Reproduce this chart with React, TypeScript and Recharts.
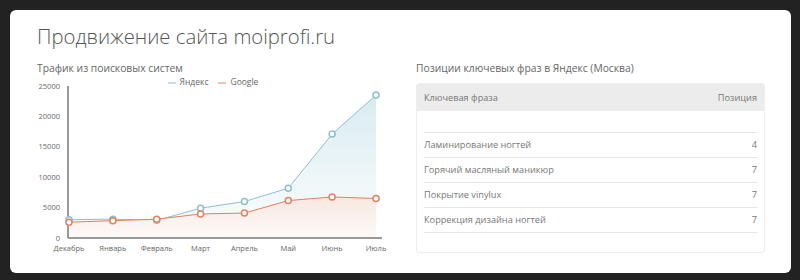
import { ComposedChart, Area, XAxis, YAxis, Legend } from 'recharts';

const months = ['Декабрь', 'Январь', 'Февраль', 'Март', 'Апрель', 'Май', 'Июнь', 'Июль'];
const yandex = [3000, 3100, 2900, 4900, 6000, 8200, 17100, 23500];
const google = [2600, 2850, 3100, 3950, 4100, 6150, 6750, 6500];
const yTicks = [0, 5000, 10000, 15000, 20000, 25000];

const phrases = ['Ламинирование ногтей', 'Горячий масляный маникюр', 'Покрытие vinylux', 'Коррекция дизайна ногтей'];
const positions = [4, 7, 7, 7];

const data = months.map((m, i) => ({ month: m, yandex: yandex[i], google: google[i] }));

const FONT = '"Open Sans", sans-serif';
const BLUE = '#8fbfcf';
const ORANGE = '#e3805f';

export default function App() {
  return (
    <div style={{ position: 'absolute', left: 0, top: 0, width: 800, height: 280, background: '#222', fontFamily: FONT }}>
      <div style={{ position: 'absolute', left: 10, top: 10, width: 781, height: 263, background: '#fff', borderRadius: 6 }} />

      <div style={{ position: 'absolute', left: 37, top: 22, fontSize: 20.3, fontWeight: 300, color: '#555', whiteSpace: 'nowrap' }}>
        Продвижение сайта moiprofi.ru
      </div>
      <div style={{ position: 'absolute', left: 37, top: 61, fontSize: 10.3, color: '#666', whiteSpace: 'nowrap' }}>
        Трафик из поисковых систем
      </div>
      <div style={{ position: 'absolute', left: 416, top: 61, fontSize: 10.3, color: '#666', whiteSpace: 'nowrap' }}>
        Позиции ключевых фраз в Яндекс (Москва)
      </div>

      <div style={{ position: 'absolute', left: 30, top: 74 }}>
        <ComposedChart width={360} height={186} data={data} margin={{ top: 0, right: 8, bottom: 6, left: 0 }}>
          <defs>
            <linearGradient id="gY" x1="0" y1="0" x2="0" y2="1">
              <stop offset="0%" stopColor="#d3e8ee" stopOpacity={0.9} />
              <stop offset="100%" stopColor="#f6fbfc" stopOpacity={0.6} />
            </linearGradient>
            <linearGradient id="gG" x1="0" y1="0" x2="0" y2="1">
              <stop offset="0%" stopColor="#fae5dc" stopOpacity={0.9} />
              <stop offset="100%" stopColor="#fdf7f4" stopOpacity={0.6} />
            </linearGradient>
          </defs>
          <Legend
            verticalAlign="top"
            align="center"
            iconType="plainline"
            iconSize={8}
            height={12}
            itemSorter={(item: any) => (item.dataKey === 'yandex' ? 0 : 1)}
            wrapperStyle={{ fontSize: 8.5, color: '#666', lineHeight: '10px', top: 3, left: 12 }}
            formatter={(v) => <span style={{ color: '#666' }}>{v}</span>}
          />
          <XAxis
            dataKey="month"
            tick={{ fontSize: 7.5, fill: '#666' }}
            tickLine={false}
            axisLine={{ stroke: '#777', strokeWidth: 1.5 }}
            padding={{ left: 1, right: 6 }}
            height={16}
            interval={0}
          />
          <YAxis
            width={38}
            domain={[0, 25000]}
            ticks={yTicks}
            tick={{ fontSize: 7.5, fill: '#666' }}
            tickLine={false}
            axisLine={{ stroke: '#777', strokeWidth: 1.5 }}
          />
          <Area
            type="linear"
            dataKey="yandex"
            name="Яндекс"
            stroke={BLUE}
            strokeWidth={1}
            fill="url(#gY)"
            fillOpacity={1}
            dot={{ r: 3, stroke: BLUE, strokeWidth: 1.5, fill: '#fff' }}
            isAnimationActive={false}
          />
          <Area
            type="linear"
            dataKey="google"
            name="Google"
            stroke={ORANGE}
            strokeWidth={1}
            fill="url(#gG)"
            fillOpacity={1}
            dot={{ r: 3, stroke: ORANGE, strokeWidth: 1.5, fill: '#fff' }}
            isAnimationActive={false}
          />
        </ComposedChart>
      </div>

      <div style={{ position: 'absolute', left: 416, top: 83, width: 349, height: 170, border: '1px solid #eee', borderRadius: 3, boxSizing: 'border-box', fontSize: 9.2, color: '#777' }}>
        <div style={{ height: 27, background: '#ececec', display: 'flex', justifyContent: 'space-between', alignItems: 'center', padding: '0 7px' }}>
          <span>Ключевая фраза</span>
          <span>Позиция</span>
        </div>
        <div style={{ height: 22, borderBottom: '1px solid #e6e6e6', margin: '0 7px', boxSizing: 'border-box' }} />
        {phrases.map((p, i) => (
          <div key={p} style={{ height: 25, borderBottom: '1px solid #e6e6e6', margin: '0 7px', display: 'flex', justifyContent: 'space-between', alignItems: 'center', paddingBottom: 2, boxSizing: 'border-box' }}>
            <span>{p}</span>
            <span>{positions[i]}</span>
          </div>
        ))}
      </div>
    </div>
  );
}
